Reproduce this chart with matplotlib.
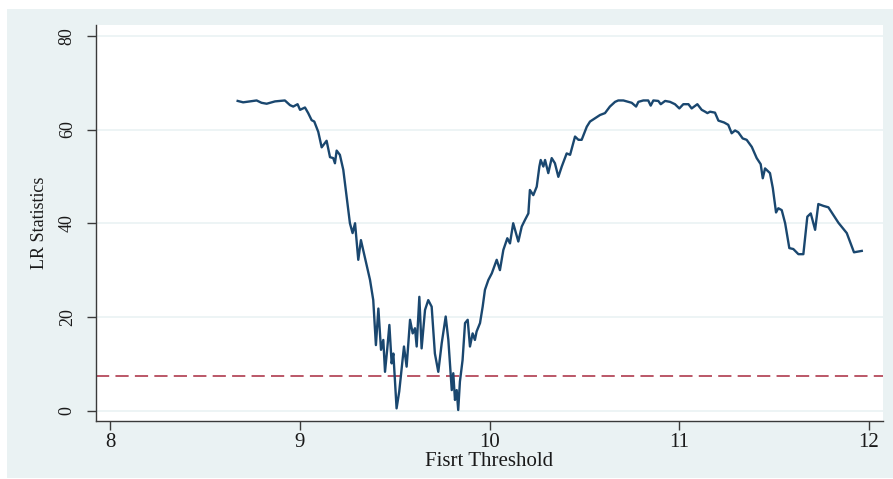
import matplotlib
matplotlib.use("Agg")
import matplotlib.pyplot as plt
from matplotlib.patches import Rectangle

# ---- data ----
threshold = [8.671, 8.700, 8.771, 8.797, 8.824, 8.868, 8.920, 8.947, 8.964, 8.987,
             9.000, 9.026, 9.043, 9.061, 9.075, 9.096, 9.114, 9.140, 9.158, 9.175,
             9.184, 9.193, 9.210, 9.228, 9.246, 9.263, 9.277, 9.290, 9.307, 9.321,
             9.333, 9.369, 9.386, 9.400, 9.413, 9.427, 9.439, 9.448, 9.460, 9.471,
             9.483, 9.492, 9.509, 9.523, 9.548, 9.562, 9.580, 9.594, 9.606, 9.615,
             9.629, 9.641, 9.659, 9.676, 9.694, 9.711, 9.729, 9.747, 9.768, 9.782,
             9.800, 9.808, 9.817, 9.826, 9.834, 9.843, 9.857, 9.870, 9.884, 9.896,
             9.910, 9.922, 9.931, 9.949, 9.963, 9.975, 9.993, 10.011, 10.037, 10.054,
             10.072, 10.093, 10.107, 10.124, 10.151, 10.169, 10.186, 10.204, 10.212, 10.230,
             10.248, 10.262, 10.269, 10.283, 10.292, 10.309, 10.327, 10.344, 10.362, 10.380,
             10.406, 10.424, 10.450, 10.468, 10.485, 10.512, 10.529, 10.555, 10.582, 10.608,
             10.634, 10.661, 10.678, 10.705, 10.749, 10.772, 10.784, 10.810, 10.836, 10.849,
             10.863, 10.889, 10.902, 10.925, 10.951, 10.977, 11.000, 11.021, 11.048, 11.065,
             11.095, 11.118, 11.136, 11.148, 11.162, 11.188, 11.206, 11.236, 11.258, 11.276,
             11.294, 11.311, 11.334, 11.355, 11.382, 11.408, 11.429, 11.440, 11.452, 11.478,
             11.493, 11.510, 11.522, 11.540, 11.558, 11.580, 11.601, 11.628, 11.654, 11.675,
             11.693, 11.716, 11.733, 11.760, 11.786, 11.812, 11.839, 11.883, 11.921, 11.962]
lr_stat = [66.1, 65.8, 66.2, 65.7, 65.5, 66.0, 66.2, 65.2, 64.9, 65.4,
           64.2, 64.7, 63.5, 62.0, 61.7, 59.5, 56.2, 57.6, 54.1, 53.9,
           52.8, 55.5, 54.6, 51.4, 45.5, 40.0, 37.9, 40.0, 32.2, 36.4,
           34.3, 27.9, 23.6, 14.0, 21.8, 13.0, 15.1, 8.3, 13.3, 18.3,
           10.1, 12.2, 0.5, 4.1, 13.7, 9.4, 19.4, 16.5, 17.6, 13.7,
           24.3, 13.3, 21.5, 23.6, 22.2, 12.2, 8.3, 14.4, 20.1, 15.1,
           4.4, 8.0, 2.3, 4.4, 0.15, 6.2, 10.8, 18.7, 19.4, 13.7,
           16.5, 15.1, 16.9, 18.7, 22.2, 25.8, 27.9, 29.3, 32.2, 30.0,
           34.3, 36.8, 35.7, 40.0, 36.1, 39.3, 40.7, 42.1, 47.1, 46.0,
           47.8, 52.1, 53.5, 52.1, 53.5, 50.7, 53.9, 52.8, 49.9, 52.1,
           54.9, 54.6, 58.5, 57.8, 57.8, 60.6, 61.7, 62.4, 63.1, 63.5,
           64.9, 65.9, 66.2, 66.2, 65.7, 64.9, 65.9, 66.2, 66.2, 65.1,
           66.2, 66.1, 65.4, 66.1, 65.9, 65.4, 64.5, 65.4, 65.4, 64.5,
           65.4, 64.2, 63.8, 63.5, 63.8, 63.6, 61.9, 61.5, 61.0, 59.2,
           59.8, 59.4, 58.1, 57.8, 56.3, 53.9, 52.6, 49.6, 51.7, 50.7,
           47.5, 42.3, 43.2, 42.8, 40.0, 34.7, 34.5, 33.4, 33.4, 41.4,
           42.1, 38.6, 44.1, 43.7, 43.4, 41.8, 40.1, 37.9, 33.8, 34.1]
critical_value = 7.38
x_ticks = [8, 9, 10, 11, 12]
y_ticks = [0, 20, 40, 60, 80]
x_label = "Fisrt Threshold"
y_label = "LR Statistics"

# ---- styling ----
BG = "#EAF2F3"
LINE = "#1A476F"
DASH = "#A8293F"
AXC = "#3a3a3a"
plt.rcParams["font.family"] = ["Liberation Serif", "DejaVu Serif"]
plt.rcParams["lines.scale_dashes"] = False

W, H = 893, 479
fig = plt.figure(figsize=(W / 100, H / 100), dpi=100)
fig.patch.set_facecolor("white")
fig.patches.append(Rectangle((7 / W, 1 / H), 886 / W, 469 / H,
                             transform=fig.transFigure, facecolor=BG,
                             edgecolor="none", zorder=-10))

ax = fig.add_axes([96 / W, (H - 420.7) / H, (883 - 96) / W, (420.7 - 25) / H])
ax.set_zorder(1)
ax.set_facecolor("white")
ax.set_xlim(7.924, 12.074)
ax.set_ylim(-2.13, 82.3)

ax.set_yticks(y_ticks)
ax.set_xticks(x_ticks)
ax.yaxis.grid(True, color=BG, linewidth=1.2)
ax.set_axisbelow(True)

ax.plot(threshold, lr_stat, color=LINE, linewidth=1.7, zorder=3)
ax.axhline(critical_value, color=DASH, linewidth=1.1, dashes=(9.5, 4.5), zorder=2)

for s in ["top", "right"]:
    ax.spines[s].set_visible(False)
for s in ["left", "bottom"]:
    ax.spines[s].set_color(AXC)
    ax.spines[s].set_linewidth(1.0)

ax.tick_params(axis="both", direction="out", length=6.5, width=1.0, color=AXC,
               labelcolor="#1a1a1a")
ax.tick_params(axis="x", labelsize=15, pad=2)
ax.tick_params(axis="y", labelsize=13, pad=8)
for lbl in ax.get_yticklabels():
    lbl.set_rotation(90)
    lbl.set_va("center")

ax.set_xlabel(x_label, fontsize=15, color="#1a1a1a", labelpad=0)
ax.set_ylabel(y_label, fontsize=13, color="#1a1a1a", labelpad=8)

fig.savefig("out.png", dpi=100, facecolor=fig.get_facecolor())
